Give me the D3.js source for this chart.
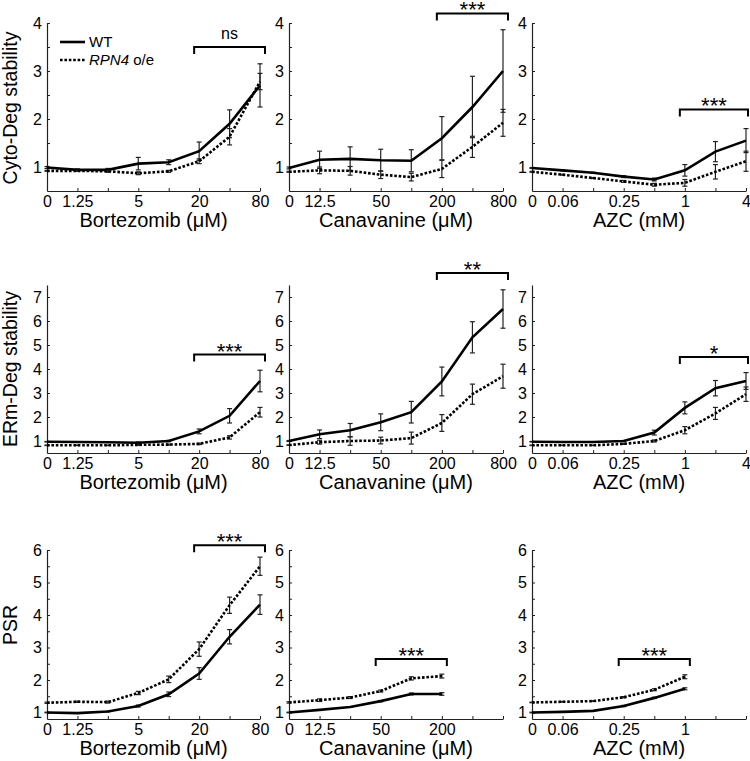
<!DOCTYPE html>
<html><head><meta charset="utf-8">
<script src="https://cdn.jsdelivr.net/npm/d3@7"></script>
<style>
body{margin:0;background:#fff}
svg{display:block}
text{font-family:"Liberation Sans",Arial,Helvetica,sans-serif;fill:#000}
</style>
</head><body><svg id="c" width="750" height="761"></svg>
<script>
// ---------- data ----------
const seriesNames = ["WT", "RPN4 o/e"];
const bortezomibConc = ["0","1.25","2.5","5","10","20","40","80"];
const canavanineConc = ["0","12.5","25","50","100","200","400","800"];
const azcConc = ["0","0.06","0.125","0.25","0.5","1","2","4"];
const bortezomibTickLabels = ["0","1.25","","5","","20","","80"];
const canavanineTickLabels = ["0","12.5","","50","","200","","800"];
const canavaninePsrTickLabels = ["0","12.5","","50","","200","",""];
const azcTickLabels = ["0","0.06","","0.25","","1","","4"];
const azcPsrTickLabels = ["0","0.06","","0.25","","1","",""];
const rowTitles = ["Cyto-Deg stability", "ERm-Deg stability", "PSR"];
const xTitles = ["Bortezomib (\u03bcM)", "Canavanine (\u03bcM)", "AZC (mM)"];

// Cyto-Deg stability
const cytoBortWT = [0.99, 0.94, 0.94, 1.07, 1.10, 1.33, 1.90, 2.70];
const cytoBortWTErr = [0.02, 0.02, 0.03, 0.13, 0.05, 0.19, 0.29, 0.45];
const cytoBortRPN4 = [0.92, 0.92, 0.91, 0.87, 0.91, 1.12, 1.63, 2.78];
const cytoBortRPN4Err = [0.01, 0.01, 0.02, 0.03, 0.02, 0.05, 0.17, 0.17];

const cytoCanWT = [0.98, 1.15, 1.17, 1.14, 1.13, 1.60, 2.25, 3.00];
const cytoCanWTErr = [0.02, 0.18, 0.25, 0.23, 0.23, 0.45, 0.64, 0.86];
const cytoCanRPN4 = [0.90, 0.93, 0.92, 0.84, 0.79, 0.96, 1.42, 1.92];
const cytoCanRPN4Err = [0.01, 0.07, 0.09, 0.08, 0.08, 0.18, 0.22, 0.28];

const cytoAzcWT = [0.98, 0.93, 0.88, 0.80, 0.74, 0.93, 1.32, 1.55];
const cytoAzcWTErr = [0.01, 0.01, 0.01, 0.02, 0.03, 0.12, 0.21, 0.25];
const cytoAzcRPN4 = [0.90, 0.84, 0.77, 0.70, 0.63, 0.67, 0.90, 1.12];
const cytoAzcRPN4Err = [0.01, 0.01, 0.01, 0.02, 0.03, 0.07, 0.15, 0.21];

// ERm-Deg stability
const ermBortWT = [0.97, 0.96, 0.95, 0.93, 1.00, 1.40, 2.05, 3.50];
const ermBortWTErr = [0.01, 0.01, 0.01, 0.03, 0.03, 0.10, 0.30, 0.45];
const ermBortRPN4 = [0.82, 0.82, 0.82, 0.84, 0.85, 0.88, 1.15, 2.20];
const ermBortRPN4Err = [0.01, 0.01, 0.01, 0.02, 0.02, 0.03, 0.07, 0.20];

const ermCanWT = [1.00, 1.28, 1.45, 1.78, 2.20, 3.48, 5.32, 6.50];
const ermCanWTErr = [0.02, 0.18, 0.28, 0.35, 0.45, 0.60, 0.65, 0.80];
const ermCanRPN4 = [0.83, 0.95, 1.00, 1.02, 1.12, 1.75, 2.95, 3.70];
const ermCanRPN4Err = [0.01, 0.08, 0.18, 0.14, 0.25, 0.35, 0.42, 0.50];

const ermAzcWT = [0.97, 0.96, 0.96, 1.00, 1.35, 2.38, 3.20, 3.50];
const ermAzcWTErr = [0.01, 0.01, 0.01, 0.02, 0.10, 0.25, 0.32, 0.35];
const ermAzcRPN4 = [0.82, 0.82, 0.82, 0.88, 1.00, 1.45, 2.15, 2.95];
const ermAzcRPN4Err = [0.01, 0.01, 0.01, 0.02, 0.04, 0.15, 0.25, 0.30];

// PSR
const psrBortWT = [1.00, 0.98, 1.03, 1.20, 1.56, 2.20, 3.33, 4.32];
const psrBortWTErr = [0.01, 0.01, 0.01, 0.03, 0.07, 0.18, 0.22, 0.30];
const psrBortRPN4 = [1.30, 1.33, 1.32, 1.60, 2.02, 2.95, 4.30, 5.50];
const psrBortRPN4Err = [0.02, 0.02, 0.03, 0.05, 0.10, 0.22, 0.25, 0.28];

const psrCanWT = [1.00, 1.08, 1.17, 1.35, 1.57, 1.57];
const psrCanWTErr = [0.01, 0.01, 0.01, 0.02, 0.03, 0.04];
const psrCanRPN4 = [1.31, 1.38, 1.46, 1.66, 2.05, 2.12];
const psrCanRPN4Err = [0.02, 0.04, 0.03, 0.03, 0.05, 0.06];

const psrAzcWT = [1.00, 1.02, 1.05, 1.20, 1.45, 1.73];
const psrAzcWTErr = [0.01, 0.01, 0.01, 0.02, 0.02, 0.03];
const psrAzcRPN4 = [1.31, 1.33, 1.35, 1.47, 1.70, 2.10];
const psrAzcRPN4Err = [0.01, 0.01, 0.01, 0.02, 0.03, 0.06];

// significance annotations: [from index, to index, label]
const sigCyto = [[5, 7, "ns"], [5, 7, "***"], [5, 7, "***"]];
const sigErm = [[5, 7, "***"], [5, 7, "**"], [5, 7, "*"]];
const sigPsr = [[5, 7, "***"], [3, 5, "***"], [3, 5, "***"]];

// ---------- layout ----------
const colX = [[47, 260], [289, 503], [532, 746]];
const rowY = [[191, 23], [453, 285], [719, 550]];
const rowDomain = [[0.5, 4], [0.5, 7.5], [0.8, 6]];
const rowTickStep = [0.5, 1, 0.5];
const bracketLevel = [[3.5, 4.2, 2.2], [4.6, 8.0, 4.5], [6.15, 2.65, 2.65]];
const titleY = [108, 369, 625];

const panels = [
  [ {c:bortezomibConc, t:bortezomibTickLabels, wt:cytoBortWT, wte:cytoBortWTErr, rp:cytoBortRPN4, rpe:cytoBortRPN4Err},
    {c:canavanineConc, t:canavanineTickLabels, wt:cytoCanWT, wte:cytoCanWTErr, rp:cytoCanRPN4, rpe:cytoCanRPN4Err},
    {c:azcConc, t:azcTickLabels, wt:cytoAzcWT, wte:cytoAzcWTErr, rp:cytoAzcRPN4, rpe:cytoAzcRPN4Err} ],
  [ {c:bortezomibConc, t:bortezomibTickLabels, wt:ermBortWT, wte:ermBortWTErr, rp:ermBortRPN4, rpe:ermBortRPN4Err},
    {c:canavanineConc, t:canavanineTickLabels, wt:ermCanWT, wte:ermCanWTErr, rp:ermCanRPN4, rpe:ermCanRPN4Err},
    {c:azcConc, t:azcTickLabels, wt:ermAzcWT, wte:ermAzcWTErr, rp:ermAzcRPN4, rpe:ermAzcRPN4Err} ],
  [ {c:bortezomibConc, t:bortezomibTickLabels, wt:psrBortWT, wte:psrBortWTErr, rp:psrBortRPN4, rpe:psrBortRPN4Err},
    {c:canavanineConc, t:canavaninePsrTickLabels, wt:psrCanWT, wte:psrCanWTErr, rp:psrCanRPN4, rpe:psrCanRPN4Err},
    {c:azcConc, t:azcPsrTickLabels, wt:psrAzcWT, wte:psrAzcWTErr, rp:psrAzcRPN4, rpe:psrAzcRPN4Err} ]
];
const sigs = [sigCyto, sigErm, sigPsr];

const svg = d3.select("#c");
const DASH = "2.6,1.8";

panels.forEach((row, r) => {
  const y = d3.scaleLinear().domain(rowDomain[r]).range(rowY[r]);
  const yTicks = d3.range(1, rowDomain[r][1] + 1e-6, rowTickStep[r]);
  row.forEach((p, ci) => {
    const x = d3.scalePoint().domain(p.c).range(colX[ci]);
    const g = svg.append("g");

    // axes
    const xa = g.append("g").attr("transform", `translate(0,${rowY[r][0]})`)
      .call(d3.axisBottom(x).tickSizeInner(-3).tickSizeOuter(0).tickPadding(5)
        .tickFormat((d, i) => p.t[i]));
    const ya = g.append("g").attr("transform", `translate(${colX[ci][0]},0)`)
      .call(d3.axisLeft(y).tickValues(yTicks).tickSizeInner(-3).tickSizeOuter(0).tickPadding(5)
        .tickFormat(d => Number.isInteger(d) ? d : ""));
    [xa, ya].forEach(a => {
      a.select(".domain").attr("stroke", "#222").attr("stroke-width", 1.2);
      a.selectAll(".tick line").attr("stroke", "#222").attr("stroke-width", 1);
      a.selectAll(".tick text").attr("font-size", 16).attr("font-family", '"Liberation Sans",Arial,sans-serif').attr("fill", "#000");
    });

    // x title
    g.append("text").attr("x", (colX[ci][0] + colX[ci][1]) / 2).attr("y", rowY[r][0] + 36)
      .attr("text-anchor", "middle").attr("font-size", 20).text(xTitles[ci]);

    // series
    const series = [
      {v: p.wt, e: p.wte, dash: null},
      {v: p.rp, e: p.rpe, dash: DASH}
    ];
    series.forEach(s => {
      const pts = s.v.map((v, i) => ({x: x(p.c[i]), v, e: s.e[i]}));
      const eb = g.append("g").attr("stroke", "#222").attr("stroke-width", 1.2).attr("fill", "none");
      pts.forEach(d => {
        const y1 = y(d.v - d.e), y2 = y(d.v + d.e);
        eb.append("line").attr("x1", d.x).attr("x2", d.x).attr("y1", y1).attr("y2", y2);
        eb.append("line").attr("x1", d.x - 2.5).attr("x2", d.x + 2.5).attr("y1", y1).attr("y2", y1);
        eb.append("line").attr("x1", d.x - 2.5).attr("x2", d.x + 2.5).attr("y1", y2).attr("y2", y2);
      });
      g.append("path").datum(pts)
        .attr("fill", "none").attr("stroke", "#000").attr("stroke-width", 2.6)
        .attr("stroke-dasharray", s.dash)
        .attr("d", d3.line().x(d => d.x).y(d => y(d.v)));
    });

    // significance bracket
    const [i0, i1, lab] = sigs[r][ci];
    const bx1 = x(p.c[i0]) - 5, bx2 = Math.min(x(p.c[i1]) + 5, 748);
    const by = y(bracketLevel[r][ci]);
    g.append("path").attr("fill", "none").attr("stroke", "#000").attr("stroke-width", 2)
      .attr("d", `M${bx1},${by + 7}V${by}H${bx2}V${by + 7}`);
    if (lab === "ns") {
      g.append("text").attr("x", (bx1 + bx2) / 2).attr("y", by - 8)
        .attr("text-anchor", "middle").attr("font-size", 16).text(lab);
    } else {
      g.append("text").attr("x", (bx1 + bx2) / 2).attr("y", by + 4)
        .attr("text-anchor", "middle").attr("font-size", 22).text(lab);
    }
  });

  // row title
  svg.append("text").attr("transform", `translate(17,${titleY[r]}) rotate(-90)`)
    .attr("text-anchor", "middle").attr("font-size", 19.5).text(rowTitles[r]);
});

// legend
const lg = svg.append("g");
[0, 1].forEach(i => {
  const yy = 42 + i * 18;
  lg.append("line").attr("x1", 60).attr("x2", 85).attr("y1", yy).attr("y2", yy)
    .attr("stroke", "#000").attr("stroke-width", 2.6).attr("stroke-dasharray", i ? DASH : null);
  const t = lg.append("text").attr("x", 89).attr("y", yy + 5).attr("font-size", 15);
  if (i === 0) t.text(seriesNames[0]);
  else {
    t.append("tspan").attr("font-style", "italic").text(seriesNames[1].split(" ")[0]);
    t.append("tspan").text(" " + seriesNames[1].split(" ")[1]);
  }
});
</script>
</body></html>
